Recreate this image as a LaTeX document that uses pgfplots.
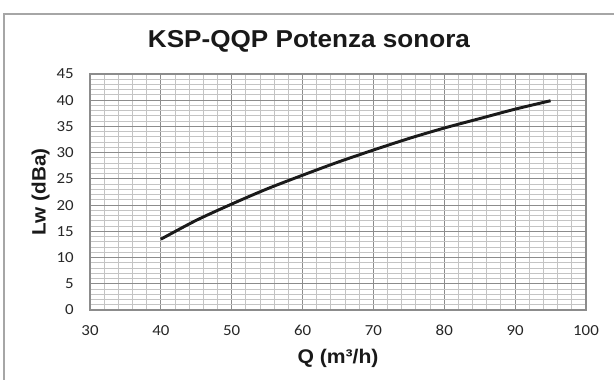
\documentclass[border=0pt]{standalone}
\usepackage{fontspec}
\setmainfont{Liberation Sans}[FakeStretch=1.07]
\newfontfamily\tickfont{Carlito}[FakeStretch=1.1]
\usepackage{pgfplots}
\pgfplotsset{compat=1.18}
\definecolor{majgrid}{HTML}{8C8C8C}
\definecolor{mingrid}{HTML}{C4C4C4}
\definecolor{framegray}{HTML}{A6A6A6}
\definecolor{curve}{HTML}{1A1A1A}
\begin{document}
\begin{tikzpicture}
\useasboundingbox (0,0) rectangle (460.5pt,284.25pt);
\draw[framegray, line width=1.1pt] (3pt,-5pt) -- (3pt,273.75pt) -- (470pt,273.75pt);
\begin{axis}[
  at={(67.5pt,51.75pt)}, anchor=south west,
  scale only axis,
  width=372pt, height=177pt,
  xmin=30, xmax=100, ymin=0, ymax=45,
  xtick={30,40,...,100}, ytick={0,5,...,45},
  minor x tick num=4, minor y tick num=4,
  grid=both,
  major grid style={majgrid, line width=0.75pt},
  minor grid style={mingrid, line width=0.75pt},
  axis line style={majgrid, line width=0.9pt},
  major tick length=0pt, minor tick length=0pt,
  /pgf/number format/assume math mode=true,
  tick label style={font=\tickfont\fontsize{11.5}{13}\selectfont, text=black!85},
  xticklabel style={inner sep=0pt, anchor=base, yshift=-19.3pt},
  yticklabel style={inner sep=0pt, anchor=east, xshift=-12pt},
  title={KSP-QQP Potenza sonora},
  title style={at={([yshift=14.25pt]axis description cs:0.4415,1)}, anchor=base, inner sep=0pt, font=\bfseries\fontsize{18.3}{20}\selectfont, text=black!90},
  xlabel={Q (m³/h)},
  xlabel style={at={([yshift=-40pt]axis description cs:0.5,0)}, anchor=base, inner sep=0pt, font=\bfseries\fontsize{14.8}{16}\selectfont, text=black!90},
  ylabel={Lw (dBa)},
  ylabel style={at={([xshift=-33.2pt]axis description cs:0,0.5)}, anchor=base, rotate=0, inner sep=0pt, font=\bfseries\fontsize{14.5}{16}\selectfont, text=black!90},
]
\addplot[curve, line width=2.2pt, smooth] coordinates {
  (40,13.5) (45,17.1) (50,20.2) (55,23.1) (60,25.7) (65,28.2)
  (70,30.5) (75,32.7) (80,34.7) (85,36.5) (90,38.3) (95,39.9)
};
\end{axis}
\end{tikzpicture}
\end{document}
